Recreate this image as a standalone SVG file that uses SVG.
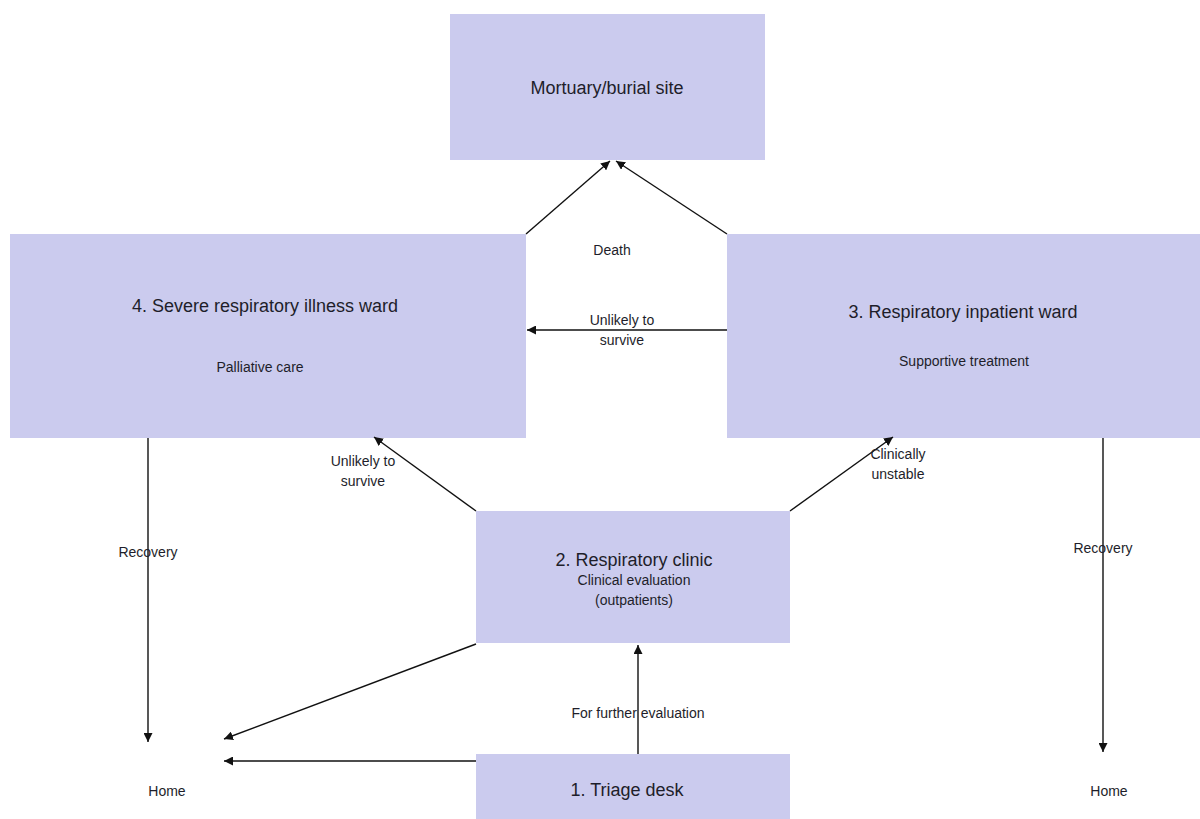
<svg xmlns="http://www.w3.org/2000/svg" width="1200" height="819" viewBox="0 0 1200 819">
<defs>
<style>
.box{fill:#cbcbee;stroke:none}
.t{font-family:"Liberation Sans",Arial,sans-serif;fill:#1e1e2a;text-anchor:middle}
.big{font-size:18px}
.sm{font-size:14px}
.c{stroke:#111;stroke-width:1.4;fill:none;marker-end:url(#ah)}
</style>
<marker id="ah" viewBox="0 0 10 10" refX="10" refY="5" markerWidth="9" markerHeight="9" markerUnits="userSpaceOnUse" orient="auto">
<path d="M0,0 L10,5 L0,10 z" fill="#111"/>
</marker>
</defs>
<rect width="1200" height="819" fill="#ffffff"/>
<g id="mortuary">
<rect class="box" x="450" y="14" width="315" height="146"/>
<text class="t big" x="607" y="94">Mortuary/burial site</text>
</g>
<g id="ward4">
<rect class="box" x="10" y="234" width="516" height="204"/>
<text class="t big" x="265" y="312">4. Severe respiratory illness ward</text>
<text class="t sm" x="260" y="372">Palliative care</text>
</g>
<g id="ward3">
<rect class="box" x="727" y="234" width="473" height="204"/>
<text class="t big" x="963" y="318">3. Respiratory inpatient ward</text>
<text class="t sm" x="964" y="366">Supportive treatment</text>
</g>
<g id="clinic">
<rect class="box" x="476" y="511" width="314" height="132"/>
<text class="t big" x="634" y="566">2. Respiratory clinic</text>
<text class="t sm" x="634" y="585">Clinical evaluation</text>
<text class="t sm" x="634" y="605">(outpatients)</text>
</g>
<g id="triage">
<rect class="box" x="476" y="754" width="314" height="65"/>
<text class="t big" x="627" y="796">1. Triage desk</text>
</g>
<g id="home-left"><text class="t sm" x="167" y="796">Home</text></g>
<g id="home-right"><text class="t sm" x="1109" y="796">Home</text></g>
<g id="connectors">
<line class="c" x1="526" y1="234" x2="610" y2="161"/>
<line class="c" x1="727" y1="234" x2="616" y2="161"/>
<line class="c" x1="727" y1="330" x2="527" y2="330"/>
<line class="c" x1="476" y1="511" x2="374" y2="437"/>
<line class="c" x1="790" y1="511" x2="893" y2="437"/>
<line class="c" x1="148" y1="438" x2="148" y2="742"/>
<line class="c" x1="1103" y1="438" x2="1103" y2="752"/>
<line class="c" x1="476" y1="644" x2="224" y2="739"/>
<line class="c" x1="476" y1="761" x2="224" y2="761"/>
<line class="c" x1="638" y1="754" x2="638" y2="645"/>
<text class="t sm" x="612" y="255">Death</text>
<text class="t sm" x="622" y="325">Unlikely to</text>
<text class="t sm" x="622" y="345">survive</text>
<text class="t sm" x="363" y="466">Unlikely to</text>
<text class="t sm" x="363" y="486">survive</text>
<text class="t sm" x="898" y="459">Clinically</text>
<text class="t sm" x="898" y="479">unstable</text>
<text class="t sm" x="148" y="557">Recovery</text>
<text class="t sm" x="1103" y="553">Recovery</text>
<text class="t sm" x="638" y="718">For further evaluation</text>
</g>
</svg>
